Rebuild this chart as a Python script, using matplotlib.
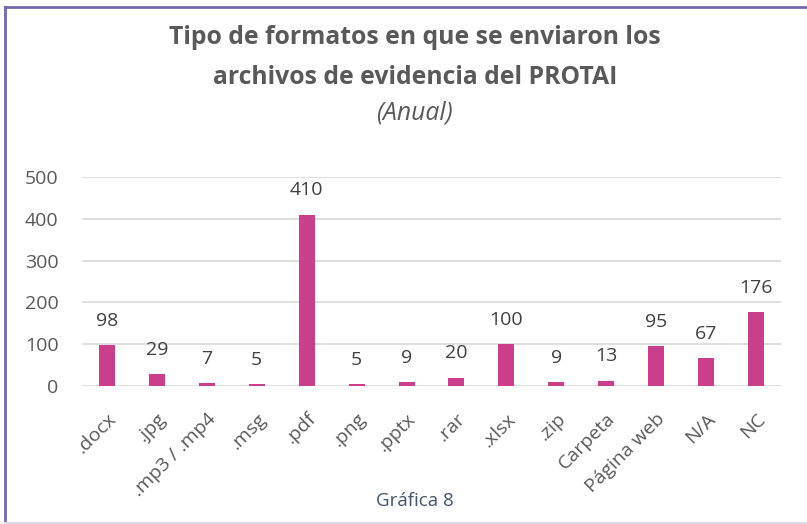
import matplotlib.pyplot as plt
from matplotlib.lines import Line2D

categorias = ['.docx', '.jpg', '.mp3 / .mp4', '.msg', '.pdf', '.png', '.pptx',
              '.rar', '.xlsx', '.zip', 'Carpeta', 'Página web', 'N/A', 'NC']
cantidades = [98, 29, 7, 5, 410, 5, 9, 20, 100, 9, 13, 95, 67, 176]
yticks = [0, 100, 200, 300, 400, 500]

plt.rcParams['font.family'] = ['Open Sans', 'DejaVu Sans']
gris = '#595959'

fig = plt.figure(figsize=(8.07, 5.24), dpi=100)
ax = fig.add_axes([0.1016, 0.2634, 0.8662, 0.3988])

x = range(len(categorias))
ax.bar(x, cantidades, width=0.32, color='#CB3E8C', zorder=3)
for i, v in zip(x, cantidades):
    ax.annotate(str(v), (i, v), xytext=(0, 17.5), textcoords='offset points',
                ha='center', va='center', fontsize=14, color='#404040')

ax.set_xlim(-0.5, len(categorias) - 0.5)
ax.set_ylim(0, 500)
ax.set_yticks(yticks)
ax.set_yticklabels([str(t) for t in yticks], fontsize=14, color=gris)
ax.set_xticks(list(x))
ax.set_xticklabels(categorias, rotation=45, ha='right', rotation_mode='anchor',
                   fontsize=14, color=gris)
ax.tick_params(length=0, axis='x', pad=17)
ax.tick_params(length=0, axis='y', pad=17)
ax.grid(axis='y', color='#D9D9D9', linewidth=1.2, zorder=0)
for s in ax.spines.values():
    s.set_visible(False)

fig.text(0.514, 0.928, 'Tipo de formatos en que se enviaron los',
         ha='center', va='center', fontsize=17.8, fontweight='bold', color=gris)
fig.text(0.514, 0.852, 'archivos de evidencia del PROTAI',
         ha='center', va='center', fontsize=17.8, fontweight='bold', color=gris)
fig.text(0.514, 0.784, '(Anual)', ha='center', va='center', fontsize=17.8,
         style='italic', color=gris)
fig.text(0.514, 0.043, 'Gráfica 8', ha='center', va='center', fontsize=13.5,
         color='#44546A')

# marco del cuadro
fig.add_artist(Line2D([0.0068, 1.0], [0.9875, 0.9875], color='#7467B0', linewidth=2))
fig.add_artist(Line2D([0.0068, 0.0068], [0.0, 0.9875], color='#7467B0', linewidth=2))
fig.add_artist(Line2D([0.0068, 1.0], [0.002, 0.002], color='#DCDAE8', linewidth=1.5))

plt.savefig('out.png', dpi=100)
